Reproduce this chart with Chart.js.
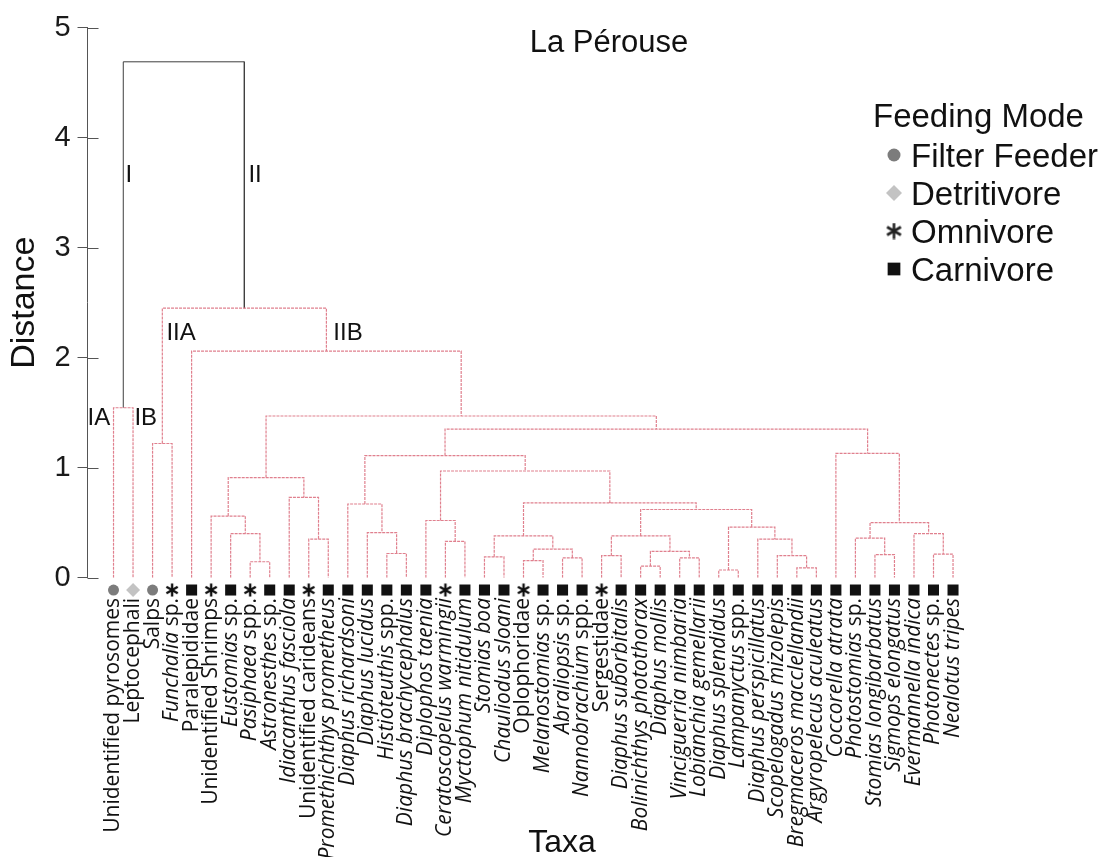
<!DOCTYPE html>
<html>
<head>
<meta charset="utf-8">
<title>La Pérouse dendrogram</title>
<script src="https://cdn.jsdelivr.net/npm/chart.js@4.4.1/dist/chart.umd.min.js"></script>
<style>
  html, body { margin: 0; padding: 0; background: #fff; }
  #wrap { width: 1109px; height: 857px; position: relative; }
</style>
</head>
<body>
<div id="wrap"><canvas id="dendro"></canvas></div>
<script>
// leaves, left to right
const taxa = [
  'Unidentified pyrosomes', 'Leptocephali', 'Salps', 'Funchalia sp.', 'Paralepididae',
  'Unidentified Shrimps', 'Eustomias sp.', 'Pasiphaea spp.', 'Astronesthes sp.', 'Idiacanthus fasciola',
  'Unidentified carideans', 'Promethichthys prometheus', 'Diaphus richardsoni', 'Diaphus lucidus', 'Histioteuthis spp.',
  'Diaphus brachycephalus', 'Diplophos taenia', 'Ceratoscopelus warmingii', 'Myctophum nitidulum', 'Stomias boa',
  'Chauliodus sloani', 'Oplophoridae', 'Melanostomias sp.', 'Abraliopsis sp.', 'Nannobrachium spp.',
  'Sergestidae', 'Diaphus suborbitalis', 'Bolinichthys photothorax', 'Diaphus mollis', 'Vinciguerria nimbaria',
  'Lobianchia gemellarii', 'Diaphus splendidus', 'Lampanyctus spp.', 'Diaphus perspicillatus', 'Scopelogadus mizolepis',
  'Bregmaceros macclellandii', 'Argyropelecus aculeatus', 'Coccorella atrata', 'Photostomias sp.', 'Stomias longibarbatus',
  'Sigmops elongatus', 'Evermannella indica', 'Photonectes sp.', 'Nealotus tripes'
];
// F filter feeder, D detritivore, O omnivore, C carnivore
const feeding = [
  'F', 'D', 'F', 'O', 'C', 'O', 'C', 'O', 'C', 'C',
  'O', 'C', 'C', 'C', 'C', 'C', 'C', 'O', 'C', 'C',
  'C', 'O', 'C', 'C', 'C', 'O', 'C', 'C', 'C', 'C',
  'C', 'C', 'C', 'C', 'C', 'C', 'C', 'C', 'C', 'C',
  'C', 'C', 'C', 'C'
];
const plainNames = ['Unidentified pyrosomes', 'Leptocephali', 'Salps', 'Paralepididae',
  'Unidentified Shrimps', 'Unidentified carideans', 'Oplophoridae', 'Sergestidae'];

// merges [left, right, distance]; ids 0-43 are leaves, merge k gets id 44 + k
const merges = [
  [0, 1, 1.545], [2, 3, 1.22], [7, 8, 0.145], [6, 46, 0.40], [5, 47, 0.56],
  [10, 11, 0.35], [9, 49, 0.73], [48, 50, 0.91], [14, 15, 0.22], [13, 52, 0.41],
  [12, 53, 0.67], [17, 18, 0.33], [16, 55, 0.52], [19, 20, 0.19], [21, 22, 0.155],
  [23, 24, 0.18], [58, 59, 0.26], [57, 60, 0.38], [25, 26, 0.20], [27, 28, 0.105],
  [29, 30, 0.18], [63, 64, 0.24], [62, 65, 0.38], [31, 32, 0.07], [35, 36, 0.09],
  [34, 68, 0.20], [33, 69, 0.35], [67, 70, 0.46], [66, 71, 0.62], [61, 72, 0.68],
  [56, 73, 0.97], [54, 74, 1.11], [39, 40, 0.21], [38, 76, 0.36], [42, 43, 0.215],
  [41, 78, 0.40], [77, 79, 0.50], [37, 80, 1.13], [75, 81, 1.35], [51, 82, 1.47],
  [4, 83, 2.06], [45, 84, 2.45], [44, 85, 4.69]
];
const yTicks = [0, 1, 2, 3, 4, 5];
const clusterLabels = [
  { text: 'I', x: 0.61, y: 3.6 }, { text: 'II', x: 6.91, y: 3.6 },
  { text: 'IA', x: -1.33, y: 1.39 }, { text: 'IB', x: 1.07, y: 1.39 },
  { text: 'IIA', x: 2.71, y: 2.16 }, { text: 'IIB', x: 11.26, y: 2.16 }
];
const legendItems = [['Filter Feeder', 'F'], ['Detritivore', 'D'], ['Omnivore', 'O'], ['Carnivore', 'C']];

// node positions: leaf index for x, merge height for y
const nodeX = taxa.map((t, i) => i);
const nodeH = taxa.map(() => 0);
merges.forEach(([a, b, h]) => { nodeX.push((nodeX[a] + nodeX[b]) / 2); nodeH.push(h); });

function uShape(m) {
  const [a, b, h] = m;
  return [
    { x: nodeX[a], y: nodeH[a] }, { x: nodeX[a], y: h },
    { x: nodeX[b], y: h }, { x: nodeX[b], y: nodeH[b] },
    { x: nodeX[b], y: null }
  ];
}
const pinkPath = [];
merges.slice(0, -1).forEach(m => pinkPath.push(...uShape(m)));
const rootPath = uShape(merges[merges.length - 1]);

// asterisk marker
function makeStar(size, color, lw) {
  const c = document.createElement('canvas');
  c.width = size; c.height = size;
  const g = c.getContext('2d');
  g.strokeStyle = color; g.lineWidth = lw;
  const r = size / 2 - 0.5;
  [90, 30, 150].forEach(deg => {
    const t = deg * Math.PI / 180;
    g.beginPath();
    g.moveTo(size / 2 - r * Math.cos(t), size / 2 - r * Math.sin(t));
    g.lineTo(size / 2 + r * Math.cos(t), size / 2 + r * Math.sin(t));
    g.stroke();
  });
  return c;
}
const modeStyle = {
  F: { pointStyle: 'circle', radius: 5.5, color: '#7c7c7c' },
  D: { pointStyle: 'rectRot', radius: 7, color: '#c3c3c3' },
  O: { pointStyle: makeStar(14, '#111', 2.4), radius: 7, color: '#111' },
  C: { pointStyle: 'rect', radius: 7.8, color: '#111' }
};
const legendStyle = {
  F: { pointStyle: 'circle', radius: 6.5, color: '#7c7c7c' },
  D: { pointStyle: 'rectRot', radius: 8, color: '#c3c3c3' },
  O: { pointStyle: makeStar(17, '#222', 2.6), radius: 8, color: '#222' },
  C: { pointStyle: 'rect', radius: 9, color: '#111' }
};
const markerY = -0.112;

const markerSets = ['F', 'D', 'O', 'C'].map(code => ({
  label: code,
  data: taxa.map((t, i) => ({ x: i, y: markerY })).filter((p, i) => feeding[i] === code),
  pointStyle: modeStyle[code].pointStyle,
  pointRadius: modeStyle[code].radius,
  pointHoverRadius: 18,
  pointBackgroundColor: modeStyle[code].color,
  pointBorderWidth: 0,
  showLine: false,
  clip: false
}));

const sansFont = '"Liberation Sans", Arial, sans-serif';

const decor = {
  id: 'decor',
  afterDraw(chart) {
    const ctx = chart.ctx;
    const xs = chart.scales.x, ys = chart.scales.y;
    ctx.save();
    // tick marks continue to the right of the axis line
    ctx.strokeStyle = '#555';
    ctx.lineWidth = 1;
    yTicks.forEach(v => {
      const y = Math.round(ys.getPixelForValue(v)) + 0.5;
      ctx.beginPath();
      ctx.moveTo(chart.chartArea.left, y);
      ctx.lineTo(chart.chartArea.left + 11, y);
      ctx.stroke();
    });
    ctx.fillStyle = '#111';
    // taxa labels, genus names in italics
    taxa.forEach((name, i) => {
      let parts;
      if (plainNames.includes(name)) parts = [[name, false]];
      else {
        const m = name.match(/^(.*?)( spp?\.)$/);
        parts = m ? [[m[1], true], [m[2], false]] : [[name, true]];
      }
      const fonts = parts.map(p => (p[1] ? 'italic ' : '') + '21px "Open Sans"');
      let total = 0;
      parts.forEach((p, k) => { ctx.font = fonts[k]; total += ctx.measureText(p[0]).width; });
      ctx.save();
      ctx.translate(xs.getPixelForValue(i), 598);
      ctx.rotate(-Math.PI / 2);
      ctx.textBaseline = 'middle';
      ctx.textAlign = 'left';
      let pos = -total;
      parts.forEach((p, k) => { ctx.font = fonts[k]; ctx.fillText(p[0], pos, 0); pos += ctx.measureText(p[0]).width; });
      ctx.restore();
    });
    // axis title, plot title, cluster names
    ctx.textBaseline = 'alphabetic';
    ctx.textAlign = 'center';
    ctx.font = '32px ' + sansFont;
    ctx.fillText('Taxa', 562, 852);
    ctx.font = '31px ' + sansFont;
    ctx.fillText('La Pérouse', 609, 52);
    ctx.textAlign = 'left';
    ctx.font = '24px ' + sansFont;
    clusterLabels.forEach(l => ctx.fillText(l.text, xs.getPixelForValue(l.x), ys.getPixelForValue(l.y)));
    // legend
    ctx.font = '33px ' + sansFont;
    ctx.fillText('Feeding Mode', 873, 127);
    legendItems.forEach(([text, code], k) => {
      const y = 155 + k * 38;
      const st = legendStyle[code];
      ctx.fillStyle = st.color;
      Chart.helpers.drawPoint(ctx, { pointStyle: st.pointStyle, radius: st.radius, rotation: 0, borderWidth: 0 }, 894, y);
      ctx.fillStyle = '#111';
      ctx.fillText(text, 911, y + 12);
    });
    ctx.restore();
  }
};

new Chart(document.getElementById('dendro'), {
  type: 'scatter',
  data: {
    datasets: [
      { label: 'tree', data: pinkPath, showLine: true, borderColor: '#e0808e', borderWidth: 1.2,
        borderDash: [3, 1], pointRadius: 0, spanGaps: false, tension: 0 },
      { label: 'root', data: rootPath, showLine: true, borderColor: '#3f3f3f', borderWidth: 1,
        pointRadius: 0, spanGaps: false, tension: 0 },
      ...markerSets
    ]
  },
  options: {
    responsive: true,
    maintainAspectRatio: false,
    animation: false,
    events: [],
    layout: { padding: { left: 0, top: 27.7, right: 109, bottom: 279.3 } },
    plugins: { legend: { display: false }, tooltip: { enabled: false } },
    scales: {
      x: { type: 'linear', min: -1.331, max: 45.406, display: false },
      y: {
        type: 'linear', min: 0, max: 5,
        afterBuildTicks: axis => { axis.ticks = yTicks.map(v => ({ value: v })); },
        ticks: { font: { family: sansFont, size: 29 }, color: '#1a1a1a', padding: 7 },
        grid: { drawOnChartArea: false, drawTicks: true, tickLength: 10, color: '#555' },
        border: { color: '#555', width: 1 },
        title: { display: true, text: 'Distance', color: '#111',
          font: { family: sansFont, size: 34 }, padding: { top: 4.6, bottom: 2 } }
      }
    }
  },
  plugins: [decor]
});
</script>
</body>
</html>
